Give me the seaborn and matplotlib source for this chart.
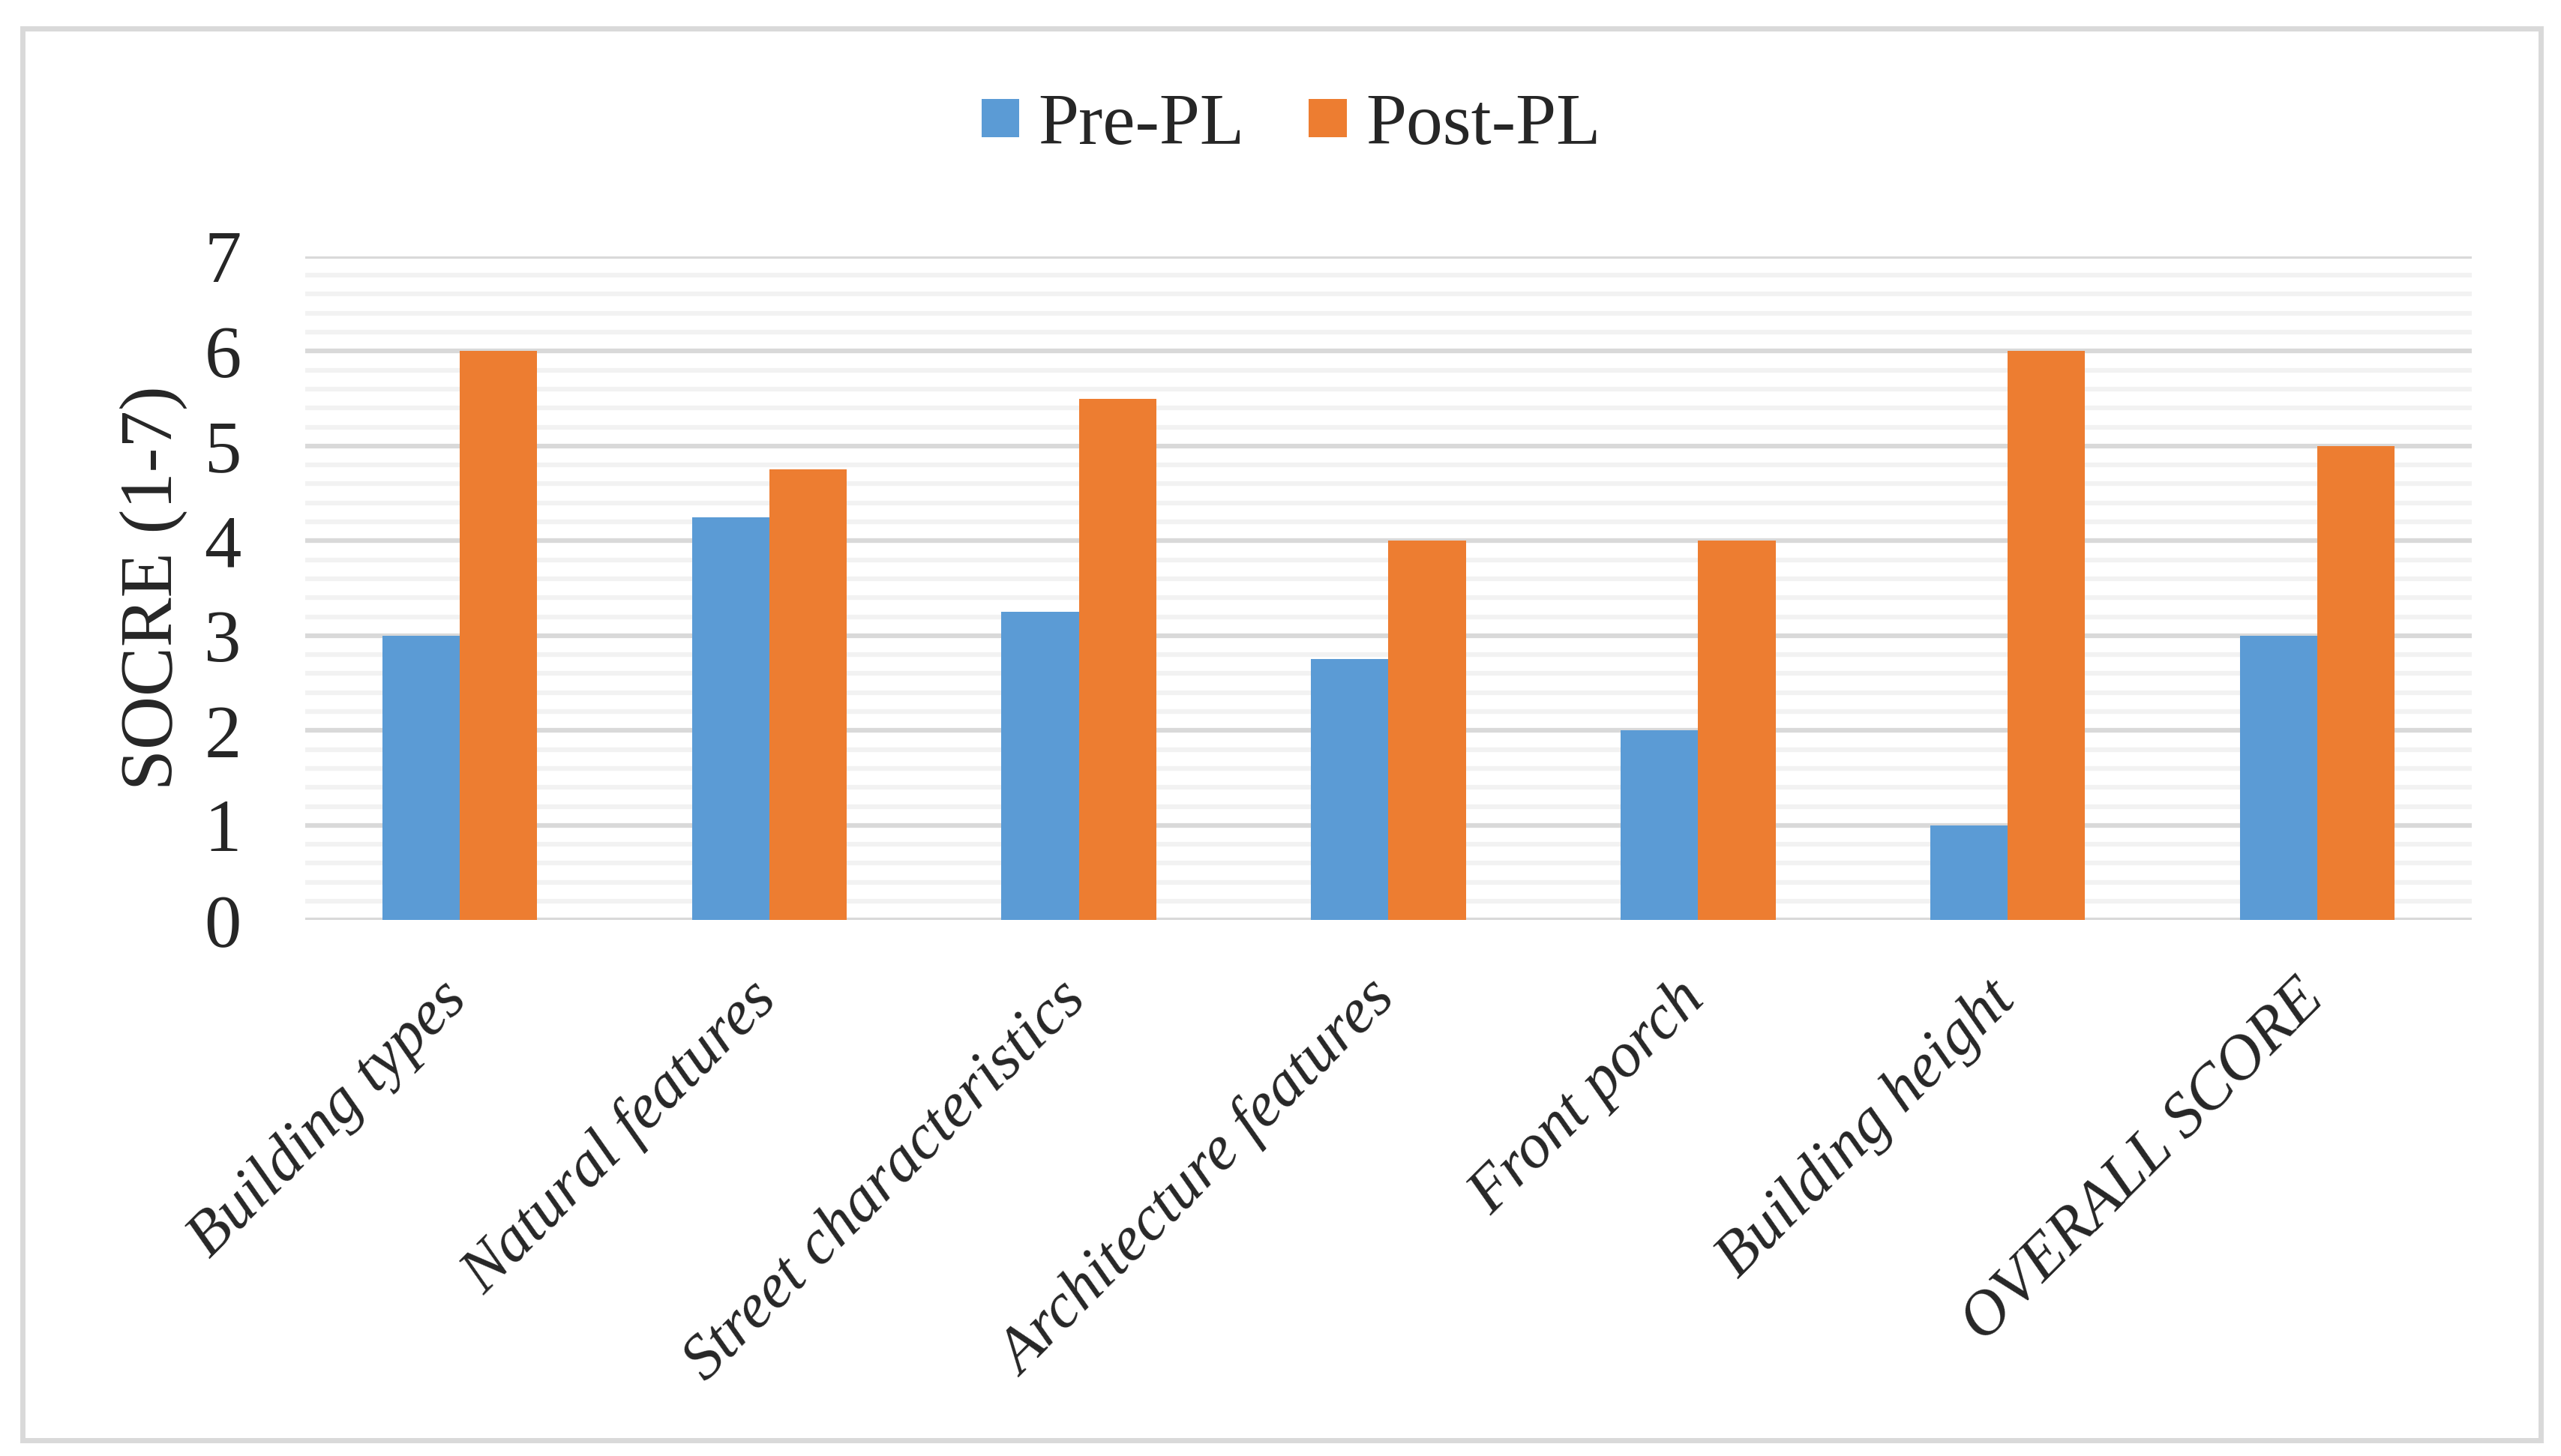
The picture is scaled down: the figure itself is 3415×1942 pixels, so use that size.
import pandas as pd
import seaborn as sns
import matplotlib.pyplot as plt
from matplotlib.patches import Rectangle
from matplotlib.ticker import MultipleLocator
from matplotlib.transforms import ScaledTranslation

categories = ['Building types', 'Natural features', 'Street characteristics',
              'Architecture features', 'Front porch', 'Building height', 'OVERALL SCORE']
pre_pl = [3, 4.25, 3.25, 2.75, 2, 1, 3]
post_pl = [6, 4.75, 5.5, 4, 4, 6, 5]
series = ['Pre-PL', 'Post-PL']
colors = ['#5B9BD5', '#ED7D31']

df = pd.DataFrame({
    'category': categories * 2,
    'score': pre_pl + post_pl,
    'period': [series[0]] * len(categories) + [series[1]] * len(categories),
})

sns.set_style('white')
plt.rcParams['font.family'] = ['Liberation Serif', 'DejaVu Serif']

fig = plt.figure(figsize=(34.16, 19.42), dpi=100)
ax = fig.add_axes([0.119, 0.368, 0.846, 0.456])

sns.barplot(data=df, x='category', y='score', hue='period', palette=colors,
            width=0.5, saturation=1, linewidth=0, ax=ax, errorbar=None)

ax.set_ylim(0, 7)
ax.set_xlim(-0.5, len(categories) - 0.5)
ax.yaxis.set_major_locator(MultipleLocator(1))
ax.yaxis.set_minor_locator(MultipleLocator(0.2))
ax.set_axisbelow(True)
ax.grid(True, which='minor', axis='y', color='#F2F2F2', linewidth=4.5)
ax.grid(True, which='major', axis='y', color='#D9D9D9', linewidth=4.5)
for s in ax.spines.values():
    s.set_visible(False)

ax.tick_params(axis='y', which='both', length=0, labelsize=71, pad=61)
ax.tick_params(axis='x', length=0, pad=48)
ax.set_xticks(range(len(categories)))
ax.set_xticklabels(categories, rotation=45, ha='right', va='top',
                   rotation_mode='anchor', fontsize=61, style='italic')
shift = ScaledTranslation(-0.3, 0, fig.dpi_scale_trans)
for lbl in ax.get_xticklabels():
    lbl.set_transform(lbl.get_transform() + shift)

ax.set_xlabel('')
ax.set_ylabel('SOCRE (1-7)', fontsize=71)
ax.yaxis.set_label_coords(-0.054, 0.5)

handles, labels = ax.get_legend_handles_labels()
ax.legend(handles, labels, loc='center', bbox_to_anchor=(0.504, 0.913),
          bbox_transform=fig.transFigure, ncol=2, frameon=False, fontsize=70,
          handlelength=0.52, handleheight=0.42, handletextpad=0.26,
          columnspacing=0.88)

fig.patches.append(Rectangle((0.0088, 0.0108), 0.983, 0.9696, transform=fig.transFigure,
                             fill=False, edgecolor='#D9D9D9', linewidth=5))

fig.savefig('out.png', dpi=100, facecolor='white')
